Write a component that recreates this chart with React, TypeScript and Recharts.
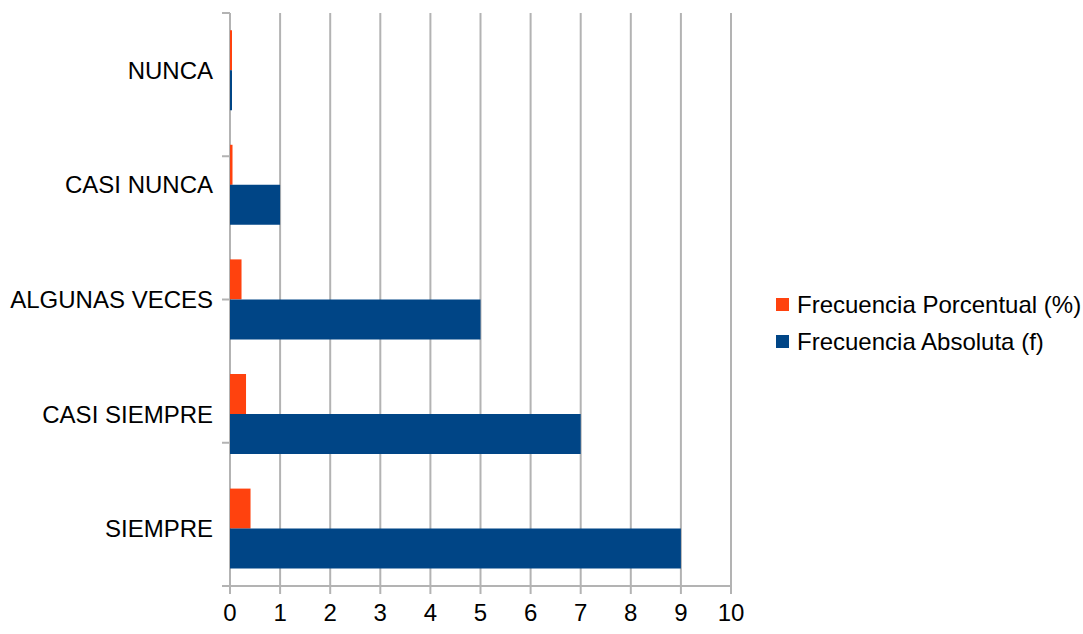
import { BarChart, Bar, XAxis, YAxis, CartesianGrid, Legend } from 'recharts';

// Categories top to bottom, as in the picture
const categorias = ['NUNCA', 'CASI NUNCA', 'ALGUNAS VECES', 'CASI SIEMPRE', 'SIEMPRE'];
const frecuenciaPorcentual = [0, 0.05, 0.23, 0.32, 0.41];
const frecuenciaAbsoluta = [0, 1, 5, 7, 9];
const xTicks = [0, 1, 2, 3, 4, 5, 6, 7, 8, 9, 10];
const separadores = [0, 1, 2, 3, 4, 5];
const ordenLeyenda = ['Frecuencia Porcentual (%)', 'Frecuencia Absoluta (f)'];

const data = categorias.map((name, i) => ({
    name,
    porcentual: frecuenciaPorcentual[i],
    absoluta: frecuenciaAbsoluta[i],
}));

const gridColor = '#b3b3b3';
const font = '"Liberation Sans", Arial, sans-serif';
const fontSize = 24;

const LegendBox = ({ payload }: any) => {
    const items = [...(payload || [])].sort(
        (a: any, b: any) => ordenLeyenda.indexOf(a.value) - ordenLeyenda.indexOf(b.value)
    );
    return (
        <div style={{ fontFamily: font, fontSize, color: '#000' }}>
            {items.map((item: any) => (
                <div key={item.value} style={{ display: 'flex', alignItems: 'center', height: 37 }}>
                    <span style={{ width: 13, height: 13, background: item.color, marginRight: 8, display: 'inline-block' }} />
                    <span>{item.value}</span>
                </div>
            ))}
        </div>
    );
};

const EmptyTick = () => <g />;

export default function App() {
    return (
        <div style={{ position: 'absolute', left: 0, top: 0, background: '#fff' }}>
            <BarChart
                width={1083}
                height={634}
                data={data}
                layout="vertical"
                margin={{ top: 13, right: 352, bottom: 0, left: 0 }}
                barCategoryGap="15%"
                barGap={0}
            >
                <CartesianGrid horizontal={false} stroke={gridColor} strokeWidth={2} yAxisId="b" />
                <XAxis
                    type="number"
                    domain={[0, 10]}
                    ticks={xTicks}
                    interval={0}
                    height={48}
                    stroke={gridColor}
                    strokeWidth={2}
                    tickSize={8}
                    tickMargin={10}
                    tick={{ fill: '#000', fontSize, fontFamily: font }}
                />
                <XAxis
                    xAxisId="top"
                    orientation="top"
                    type="number"
                    domain={[0, 10]}
                    height={0}
                    tick={false}
                    tickLine={false}
                    stroke={gridColor}
                    strokeWidth={2}
                />
                {/* category separators on the left axis, sits right on the plot edge */}
                <YAxis
                    yAxisId="a"
                    type="number"
                    domain={[0, 5]}
                    ticks={separadores}
                    interval={0}
                    width={8}
                    axisLine={false}
                    tick={<EmptyTick />}
                    tickSize={8}
                    stroke={gridColor}
                    strokeWidth={2}
                />
                <YAxis
                    yAxisId="b"
                    type="category"
                    dataKey="name"
                    width={222}
                    axisLine={false}
                    tickLine={false}
                    tickSize={0}
                    tickMargin={9}
                    tick={{ fill: '#000', fontSize, fontFamily: font }}
                />
                <Legend
                    layout="vertical"
                    align="center"
                    verticalAlign="middle"
                    content={<LegendBox />}
                    wrapperStyle={{ left: 776, top: 286, width: 'auto' }}
                />
                <Bar
                    yAxisId="b"
                    dataKey="porcentual"
                    name="Frecuencia Porcentual (%)"
                    fill="#ff420e"
                    minPointSize={2}
                    isAnimationActive={false}
                />
                <Bar
                    yAxisId="b"
                    dataKey="absoluta"
                    name="Frecuencia Absoluta (f)"
                    fill="#004586"
                    minPointSize={2}
                    isAnimationActive={false}
                />
            </BarChart>
        </div>
    );
}
